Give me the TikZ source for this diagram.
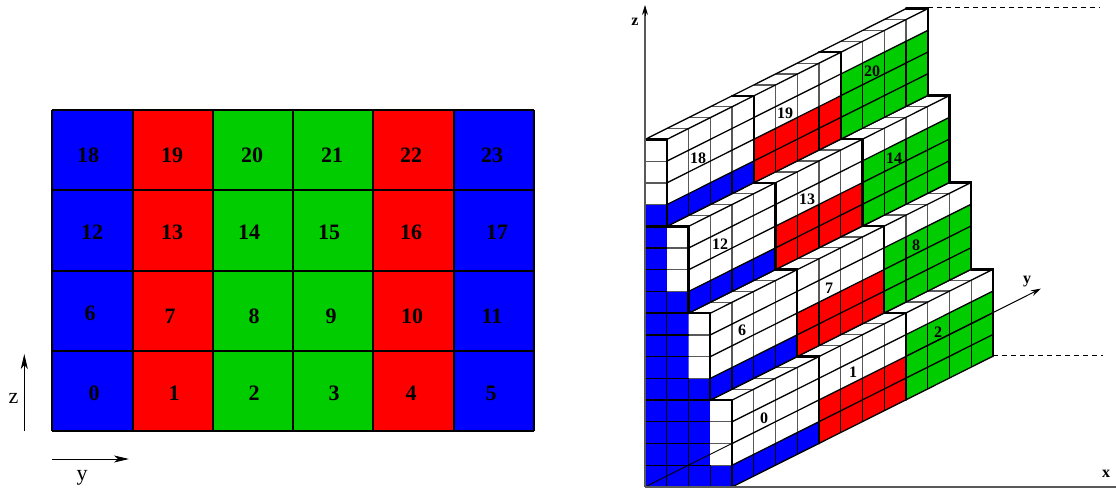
\documentclass[tikz,border=0pt]{standalone}
\usepackage{fontspec}
\setmainfont{Liberation Serif}
\usetikzlibrary{arrows.meta}
\definecolor{pblue}{RGB}{0,0,255}
\definecolor{pred}{RGB}{255,0,0}
\definecolor{pgreen}{RGB}{0,204,0}
\definecolor{gridgray}{gray}{0.35}
\tikzset{
  flat/.style={draw=black,line width=1.3pt},
  lab/.style={font=\bfseries\fontsize{22}{22}\selectfont,inner sep=0pt},
  axlab/.style={font=\fontsize{22}{22}\selectfont,inner sep=0pt},
  lab3/.style={font=\bfseries\fontsize{16}{16}\selectfont,inner sep=0pt},
  axlab3/.style={font=\bfseries\fontsize{16}{16}\selectfont,inner sep=0pt},
  thin3/.style={line width=1.3pt,draw=black},
  gray3/.style={line width=1.3pt,draw=gridgray},
  thick3/.style={line width=2.4pt,draw=black,line cap=round,line join=miter},
  arrow/.style={line width=1pt,-{Stealth[length=15pt,width=7pt,inset=4pt]}},
  arrowb/.style={line width=1pt,-{Stealth[length=10pt,width=6pt]}},
  dash3/.style={line width=1pt,dash pattern=on 5pt off 4pt},
  block/.style={x={(21.75pt,0pt)},y={(21.75pt,10.9pt)},z={(0pt,21.72pt)},shift={(645pt,3pt)}}
}
\begin{document}
\begin{tikzpicture}[x=1pt,y=1pt]
\useasboundingbox (0,0) rectangle (1116,490);
% ---------- left panel
\foreach \xa/\xb/\col in {52/133/pblue,133/213/pred,213/293/pgreen,293/373/pgreen,373/454/pred,454/534/pblue}{
  \fill[\col] (\xa,490-110) rectangle (\xb,490-431);
}
\foreach \xa in {52,133,213,293,373,454,534}{ \draw[flat] (\xa,490-110) -- (\xa,490-431); }
\foreach \ya in {110,190,271,351,431}{ \draw[flat] (52,490-\ya) -- (534,490-\ya); }
\foreach \t/\px/\py in {18/88/155,19/172/155,20/252/155,21/332/155,22/411/155,23/492/155,
 12/92/232,13/172/232,14/249/232,15/329/232,16/411/232,17/497/232,
 6/90/313,7/170/316,8/254/316,9/331/316,10/412/316,11/492/316,
 0/94/393,1/174/393,2/254/393,3/334/393,4/411/393,5/491/393}{
  \node[lab] (L\t) at (\px,490-\py) {\t};
}
\coordinate (zs) at (24.3,490-431); \coordinate (ze) at (24.3,490-354);
\coordinate (ys) at (52,490-459); \coordinate (ye) at (129,490-459);
\draw[arrow] (zs) -- (ze);
\draw[arrow] (ys) -- (ye);
\node[axlab] (lz) at (13.5,490-398) {z};
\node[axlab] (ly) at (82,490-478) {y};
% ---------- right panel
\begin{scope}[block]
\foreach \r in {0,1,2,3}{
  \pgfmathtruncatemacro{\zb}{4*\r}
  \pgfmathtruncatemacro{\zc}{4*\r+1}
  \pgfmathtruncatemacro{\zt}{4*\r+4}
  \pgfmathtruncatemacro{\xf}{4-\r}
  \pgfmathtruncatemacro{\xb}{3-\r}
  % left plane y=0
  \fill[pblue] (0,0,\zb) -- (\xf,0,\zb) -- (\xf,0,\zc) -- (\xb,0,\zc) -- (\xb,0,\zt) -- (0,0,\zt) -- cycle;
  \fill[white] (\xb,0,\zc) -- (\xf,0,\zc) -- (\xf,0,\zt) -- (\xb,0,\zt) -- cycle;
  % front plane
  \foreach \c/\col in {0/pblue,1/pred,2/pgreen}{
    \pgfmathtruncatemacro{\ya}{4*\c}
    \pgfmathtruncatemacro{\yb}{4*\c+4}
    \pgfmathtruncatemacro{\zm}{\zb+\c+1}
    \fill[\col] (\xf,\ya,\zb) -- (\xf,\yb,\zb) -- (\xf,\yb,\zm) -- (\xf,\ya,\zm) -- cycle;
    \fill[white] (\xf,\ya,\zm) -- (\xf,\yb,\zm) -- (\xf,\yb,\zt) -- (\xf,\ya,\zt) -- cycle;
    \foreach \k in {1,2,3}{
      \pgfmathtruncatemacro{\yk}{\ya+\k}
      \draw[gray3] (\xf,\yk,\zm) -- (\xf,\yk,\zt);
      \draw[thin3] (\xf,\yk,\zb) -- (\xf,\yk,\zm);
    }
  }
  % top face
  \fill[white] (\xb,0,\zt) -- (\xf,0,\zt) -- (\xf,12,\zt) -- (\xb,12,\zt) -- cycle;
  \foreach \k in {1,...,11}{ \draw[gray3] (\xb,\k,\zt) -- (\xf,\k,\zt); }
  % lines along y
  \foreach \k in {0,1,2,3,4}{
    \pgfmathtruncatemacro{\zk}{\zb+\k}
    \draw[thin3] (\xf,0,\zk) -- (\xf,12,\zk);
  }
  \draw[thin3] (\xb,0,\zt) -- (\xb,12,\zt);
}
% grid on the left plane: level / last blue column / right end
\foreach \zk/\xk/\xm in {0/4/4,1/3/4,2/3/4,3/3/4,4/3/3,5/2/3,6/2/3,7/2/3,8/2/2,9/1/2,10/1/2,11/1/2,12/1/1,13/0/1,14/0/1,15/0/1}{
  \draw[thin3] (0,0,\zk) -- (\xk,0,\zk);
  \draw[gray3] (\xk,0,\zk) -- (\xm,0,\zk);
}
% columns of the left plane, as far up as they part blue cells
\foreach \xk/\za in {1/9,2/5,3/1}{
  \draw[thin3] (\xk,0,0) -- (\xk,0,\za);
}
% y axis, over the faces
\coordinate (O) at (0,0,0);
\coordinate (Yin) at (0,4,0);
\coordinate (Ymid) at (0,12,0);
\coordinate (Yend) at (0,18.2,0);
\draw[line width=.9pt] (O) -- (Yin);
\draw[arrowb] (Ymid) -- (Yend);
% thick staircases
\foreach \c in {0,1,2,3}{
  \pgfmathtruncatemacro{\yy}{4*\c}
  \foreach \r in {0,1,2,3}{
    \pgfmathtruncatemacro{\zb}{4*\r}
    \pgfmathtruncatemacro{\zt}{4*\r+4}
    \pgfmathtruncatemacro{\xf}{4-\r}
    \pgfmathtruncatemacro{\xb}{3-\r}
    \ifnum\c=0
      \draw[thick3] (\xf,\yy,\zb) -- (\xf,\yy,\zt) -- (0,\yy,\zt);
    \else
      \draw[thick3] (\xf,\yy,\zb) -- (\xf,\yy,\zt) -- (\xb,\yy,\zt);
    \fi
  }
}
\end{scope}
\foreach \t/\px/\py in {0/764/418,1/853/372,2/938/332,6/742/330,7/829/288,8/916/245,12/720/244,13/807/199,14/894/158,18/698/158,19/785/113,20/872/71}{
  \node[lab3] (R\t) at (\px,490-\py) {\t};
}
% axes
\coordinate (A) at (645,3);
\coordinate (Zend) at (645,485);
\coordinate (Xend) at (1116,3);
\coordinate (Da) at (928,482); \coordinate (Db) at (1100,482);
\coordinate (Dc) at (993,134); \coordinate (Dd) at (1103,134);
\draw[line width=1.2pt,draw=gridgray] (A) -- (645,478);
\draw[arrowb] (645,474) -- (Zend);
\draw[line width=1.2pt,draw=gridgray] (A) -- (Xend);
\draw[dash3] (Da) -- (Db);
\draw[dash3] (Dc) -- (Dd);
\node[axlab3] (zl) at (635,468) {z};
\node[axlab3] (xl) at (1106,16) {x};
\node[axlab3] (yl) at (1027,208) {y};
\end{tikzpicture}
\end{document}
